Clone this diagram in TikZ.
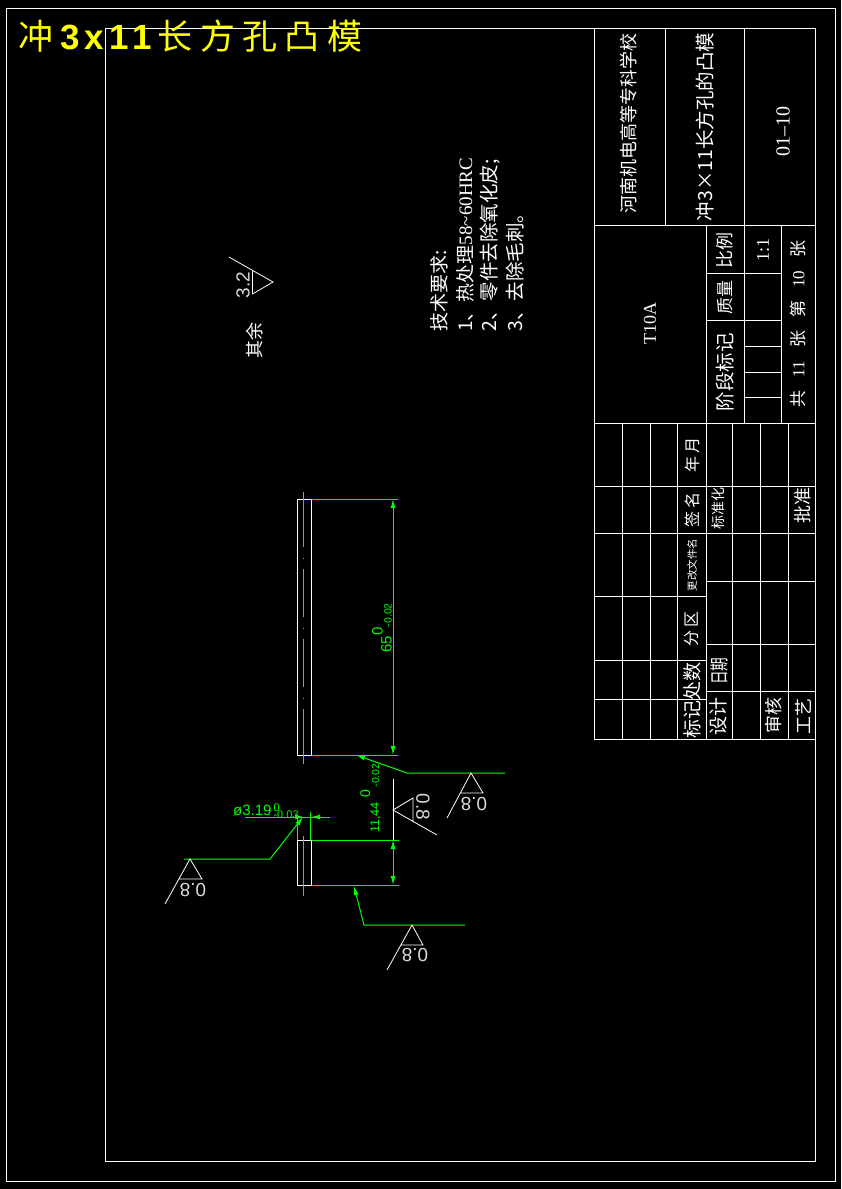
\documentclass[tikz,border=0pt]{standalone}
\usepackage{fontspec}
\setmainfont{Liberation Serif}
\newfontfamily\cjk{Noto Sans CJK SC}
\newfontfamily\arial{Liberation Sans}
\newfontfamily\titlecjk[LetterSpace=21]{Noto Sans CJK SC}
\newfontfamily\titlelat[LetterSpace=15]{Liberation Sans Bold}
\usetikzlibrary{arrows.meta}
\newcommand{\dimtol}[5]{#1\hspace{#2}\rlap{\raisebox{9pt}{#3}}\hspace{#4}{\fontsize{10.5}{11}\selectfont #5}}
\newcommand{\fs}[1]{\fontsize{#1}{#1}\selectfont}

\tikzset{
    frame/.style={draw=white,line width=1pt},
    dimline/.style={draw=green,line width=1pt},
    leader/.style={dimline,<-},
    symbol/.style={draw=white,line width=.8pt},
    label/.style={text=white,inner sep=0pt,rotate=90,font=\cjk\fs{18}},
    roman/.style={text=white,inner sep=0pt,rotate=90,font=\fs{18}},
    dimtext/.style={text=green,inner sep=0pt,rotate=90,anchor=south west,font=\arial\fs{15}},
    rough/.style={text=white!85!black,inner sep=0pt,font=\arial\fs{19}}
}
\definecolor{green}{RGB}{0,255,0}
\definecolor{yellow}{RGB}{255,255,0}

\begin{document}
\begin{tikzpicture}[x=1pt,y=-1pt,>={Latex[length=9pt,width=5pt]}]
    \fill[black] (0,0) rectangle (841,1189);
    \useasboundingbox (0,0) rectangle (841,1189);

    % frames
    \draw[frame] (6,8) rectangle (835,1181);
    \draw[frame] (105,28) rectangle (815,1161);

    % title block, upper part
    \draw[frame] (594,28) rectangle (815,739);
    \draw[frame] (594,225) -- (815,225);
    \draw[frame] (594,423) -- (815,423);
    \draw[frame] (665,28) -- (665,225);
    \draw[frame] (744.5,28) -- (744.5,423);
    \draw[frame] (706,225) -- (706,739);
    \draw[frame] (781,225) -- (781,423);
    \draw[frame] (706,273) -- (781,273);
    \draw[frame] (706,320) -- (781,320);
    \foreach \y in {346,372,397}
        \draw[frame] (744.5,\y) -- (781,\y);

    % title block, lower part
    \foreach \x in {622,650,677,732,760,788}
        \draw[frame] (\x,423) -- (\x,739);
    \draw[frame] (594,486) -- (815,486);
    \draw[frame] (594,533) -- (815,533);
    \foreach \y in {581,644,691}
        \draw[frame] (706,\y) -- (815,\y);
    \foreach \y in {596,660,699}
        \draw[frame] (594,\y) -- (706,\y);

    % title block texts
    \node[label] (School) at (629,123) {河南机电高等专科学校};
    \node[label,font=\cjk\fs{19.5}] (Name) at (705,127) {冲3×11长方孔的凸模};
    \node[roman,font=\fs{20}] (Number) at (783,131) {01--10};
    \node[roman] (Material) at (650,323) {T10A};
    \node[label] (Scale) at (725,250) {比例};
    \node[label,font=\cjk\fs{17}] (Weight) at (725,297) {质量};
    \node[label,font=\cjk\fs{19.5}] (Stage) at (725,372) {阶段标记};
    \node[roman] (Ratio) at (763,250) {1:1};
    \node[label,font=\cjk\fs{17}] (Sheets) at (798,324) {共\hspace{13pt}{\rmfamily 11}\hspace{13pt}张\hspace{13pt}第\hspace{13pt}{\rmfamily 10}\hspace{13pt}张};
    \node[label,font=\cjk\fs{16}] (Date) at (692,455) {年 月};
    \node[label,font=\cjk\fs{16}] (Sign) at (692,510) {签 名};
    \node[label,font=\cjk\fs{10.5}] (Change) at (692,565) {更改文件名};
    \node[label,font=\cjk\fs{16}] (Zone) at (692,629) {分 区};
    \node[label,font=\cjk\fs{19}] (Marks) at (692,700) {标记处数};
    \node[label,font=\cjk\fs{14}] (Standard) at (718,508) {标准化};
    \node[label] (Approve) at (803,505) {批准};
    \node[label] (Check) at (774,715) {审核};
    \node[label] (Craft) at (803,716) {工艺};
    \node[label,font=\cjk\fs{19}] (Design) at (718,716) {设计};
    \node[label,font=\cjk\fs{19}] (Day) at (719,671) {\scalebox{.72}[1]{日期}};

    % heading
    \node[text=yellow,inner sep=0pt,anchor=west] (Heading) at (18,36)
        {\fs{35}\titlecjk 冲\hspace{7pt}\titlelat 3x11\hspace{6pt}\titlecjk 长方孔凸模};

    % requirements
    \node[label,anchor=west,font=\cjk\fs{19}] (Req) at (439,332) {技术要求:};
    \node[label,anchor=west,font=\cjk\fs{19}] (ReqA) at (465,332) {1、热处理{\rmfamily 58\textasciitilde 60HRC}};
    \node[label,anchor=west,font=\cjk\fs{19.5}] (ReqB) at (490,332) {2、零件去除氧化皮;};
    \node[label,anchor=west,font=\cjk\fs{19.5}] (ReqC) at (515,332) {3、去除毛刺。};
    \node[label] (Rest) at (255,340) {其余};

    % general roughness
    \coordinate (RoughTip) at (273,282);
    \draw[symbol] (229,257) -- (RoughTip) -- (252.5,294) -- (252.5,270);
    \node[rough,rotate=90] (RoughVal) at (243,285) {3.2};

    % long view
    \draw[frame] (297,499) rectangle (311,755);
    \draw[dimline,dash pattern=on 55pt off 10.5pt on 1pt off 10.5pt on 48pt off 10.5pt on 1pt off 10.5pt on 48pt off 10.5pt on 1pt off 10.5pt on 55pt off 10pt] (303.5,492) -- (303.5,767);
    \draw[dimline] (312,499) -- (398,499);
    \draw[dimline] (312,755) -- (398,755);
    \coordinate (LongA) at (393,499);
    \coordinate (LongB) at (393,755);
    \draw[dimline,<->] (LongA) -- (LongB);
    \node[dimtext] (LongDim) at (392,653) {\dimtol{65}{1pt}{0}{8pt}{-0.02}};

    % short view
    \draw[frame] (297,840) rectangle (311,885);
    \draw[dimline] (303.5,836) -- (303.5,896);
    \draw[dimline] (312,840) -- (399,840);
    \draw[dimline] (312,885) -- (399,885);
    \coordinate (ShortA) at (393,840);
    \coordinate (ShortB) at (393,885);
    \draw[dimline,<->] (ShortA) -- (ShortB);
    \node[dimtext,font=\arial\fs{12.5}] (ShortDim) at (381,833) {\dimtol{11,44}{5pt}{\fs{14}0}{10pt}{-0.02}};

    % diameter
    \draw[dimline] (297,840) -- (297,817);
    \draw[dimline] (310.5,840) -- (310.5,812);
    \coordinate (DiaL) at (304,817);
    \coordinate (DiaR) at (311,817);
    \draw[dimline] (245,817) -- (330,817);
    \draw[dimline,->] (270,817) -- (DiaL);
    \draw[dimline,->] (330,817) -- (DiaR);
    \node[text=green,inner sep=0pt,anchor=base west,font=\arial\fs{15}] (DiaDim) at (233,815)
        {ø3.19\hspace{2pt}\rlap{\raisebox{3.5pt}{\fs{11}0}}{\fs{11}\raisebox{-3pt}{-0.03}}};

    % roughness on the right side
    \coordinate (SideTip) at (393,810);
    \draw[frame,line width=.8pt] (393,779) -- (393,840);
    \draw[symbol] (437,835) -- (SideTip) -- (413,798) -- (413,822);
    \node[rough,rotate=-90] (SideVal) at (423,807) {0.8};

    % roughness with leaders
    \coordinate (TopTip) at (356,755);
    \coordinate (TopBend) at (407,773);
    \coordinate (TopEnd) at (505,773);
    \draw[leader] (TopTip) -- (TopBend) -- (TopEnd);
    \draw[symbol] (447,818) -- (471,773) -- (483,793) -- (460,793);
    \node[rough,rotate=180] (TopVal) at (474,804) {0.8};

    \coordinate (LowTip) at (354,886);
    \coordinate (LowBend) at (364,925);
    \coordinate (LowEnd) at (465,925);
    \draw[leader] (LowTip) -- (LowBend) -- (LowEnd);
    \draw[symbol] (387,970) -- (412,925) -- (423,945) -- (401,945);
    \node[rough,rotate=180] (LowVal) at (415,955) {0.8};

    \coordinate (LeftTip) at (303,817);
    \coordinate (LeftBend) at (270,859);
    \coordinate (LeftEnd) at (184,859);
    \draw[leader] (LeftTip) -- (LeftBend) -- (LeftEnd);
    \draw[symbol] (165,904) -- (190,859) -- (202,879) -- (179,879);
    \node[rough,rotate=180] (LeftVal) at (193,890) {0.8};
\end{tikzpicture}
\end{document}
